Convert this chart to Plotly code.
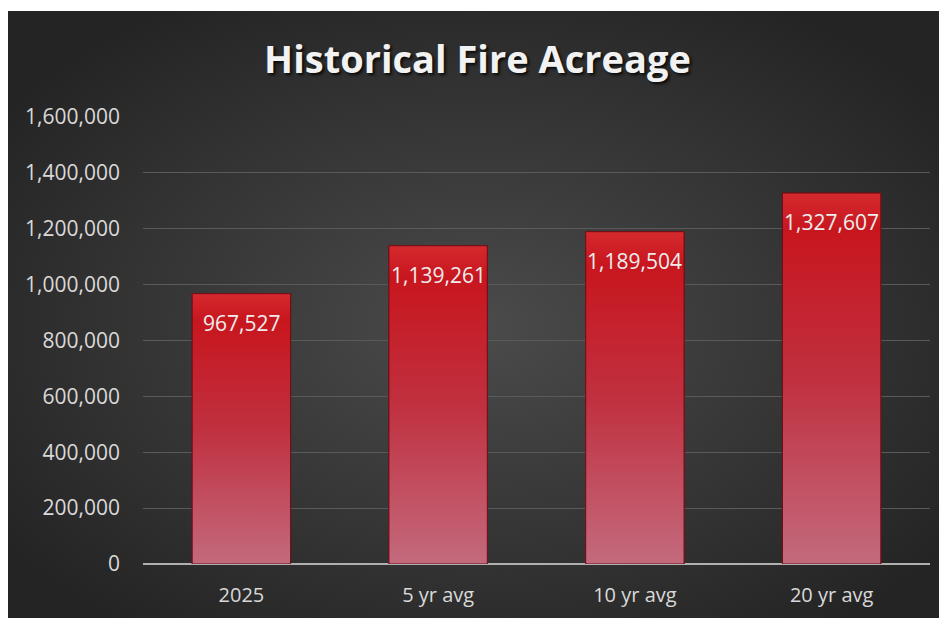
import base64
import plotly.graph_objects as go

categories = ["2025", "5 yr avg", "10 yr avg", "20 yr avg"]
acres = [967527, 1139261, 1189504, 1327607]
y_tick_values = [0, 200000, 400000, 600000, 800000, 1000000, 1200000, 1400000, 1600000]

# page has an 8px body offset; figure sized so it fits the 947x618 window
W, H = 939, 610
L, R, T, B = 135, 17, 109, 54
pw, ph = W - L - R, H - T - B
BAR_W = 0.5

svg = (
    '<svg xmlns="http://www.w3.org/2000/svg" width="939" height="607" viewBox="0 0 939 607" '
    'preserveAspectRatio="none"><defs><radialGradient id="g" cx="50%" cy="52%" r="62%">'
    '<stop offset="0" stop-color="#4b4b4b"/><stop offset="1" stop-color="#242424"/>'
    '</radialGradient></defs><rect width="939" height="607" fill="url(#g)"/></svg>'
)
bg_src = "data:image/svg+xml;base64," + base64.b64encode(svg.encode()).decode()

bar_scale = [[0.0, "#c36a7d"], [0.5, "#c0303f"], [0.9, "#c8161e"], [1.0, "#d42a2e"]]

fig = go.Figure()
fig.add_trace(go.Bar(
    x=categories, y=acres, width=BAR_W,
    marker=dict(color="#c2283a", line=dict(color="#7a1018", width=1)),
    hoverinfo="x+y",
))

# vertical gradient shading for each bar, drawn from the same data on a
# hidden overlaying linear axis aligned with the category positions
for i, v in enumerate(acres):
    x0, x1 = i - BAR_W / 2, i + BAR_W / 2
    fig.add_trace(go.Scatter(
        x=[x0, x1, x1, x0, x0], y=[0, 0, v, v, 0], xaxis="x2",
        mode="lines", fill="toself",
        line=dict(color="#6e0e16", width=1),
        fillgradient=dict(type="vertical", colorscale=bar_scale, start=0, stop=v),
        hoverinfo="skip", showlegend=False,
    ))

# category axis: annotations placed by category index (a numeric-looking
# string like "2025" would otherwise be read as an index)
for i, v in enumerate(acres):
    fig.add_annotation(
        x=i, y=v, xref="x", yref="y", text=f"{v:,}", showarrow=False,
        yshift=-29, font=dict(family="Open Sans", size=21, color="#ededed"),
    )

fig.update_layout(
    width=W, height=H,
    margin=dict(l=L, r=R, t=T, b=B),
    paper_bgcolor="#ffffff",
    plot_bgcolor="rgba(0,0,0,0)",
    showlegend=False,
    title=dict(
        text="Historical Fire Acreage",
        x=0.5, xref="container", xanchor="center",
        y=1 - 52 / H, yref="container", yanchor="middle",
        font=dict(family="Open Sans", size=38, weight=700, color="#f2f2f2",
                  shadow="2px 2px 3px rgba(0,0,0,0.8)"),
    ),
    images=[dict(
        source=bg_src, xref="paper", yref="paper",
        x=(0 - L) / pw, y=(H - B - 3) / ph,
        sizex=W / pw, sizey=607 / ph,
        xanchor="left", yanchor="top", sizing="stretch", layer="below",
    )],
    xaxis=dict(
        type="category", range=[-0.5, len(categories) - 0.5],
        showgrid=False, showline=False, zeroline=False, ticks="",
        ticklabelstandoff=17, automargin=False,
        tickfont=dict(family="Open Sans", size=20, color="#d9d9d9"),
    ),
    xaxis2=dict(
        overlaying="x", range=[-0.5, len(categories) - 0.5], visible=False,
    ),
    yaxis=dict(
        range=[0, 1600000], tickvals=y_tick_values, tickformat=",",
        showgrid=True, gridcolor="#5a5a5a", gridwidth=1,
        zeroline=True, zerolinecolor="#b0b0b0", zerolinewidth=2,
        showline=False, ticks="", ticklabelstandoff=22, automargin=False,
        tickfont=dict(family="Open Sans", size=21, color="#d9d9d9"),
    ),
)

fig.write_html("out.html")
